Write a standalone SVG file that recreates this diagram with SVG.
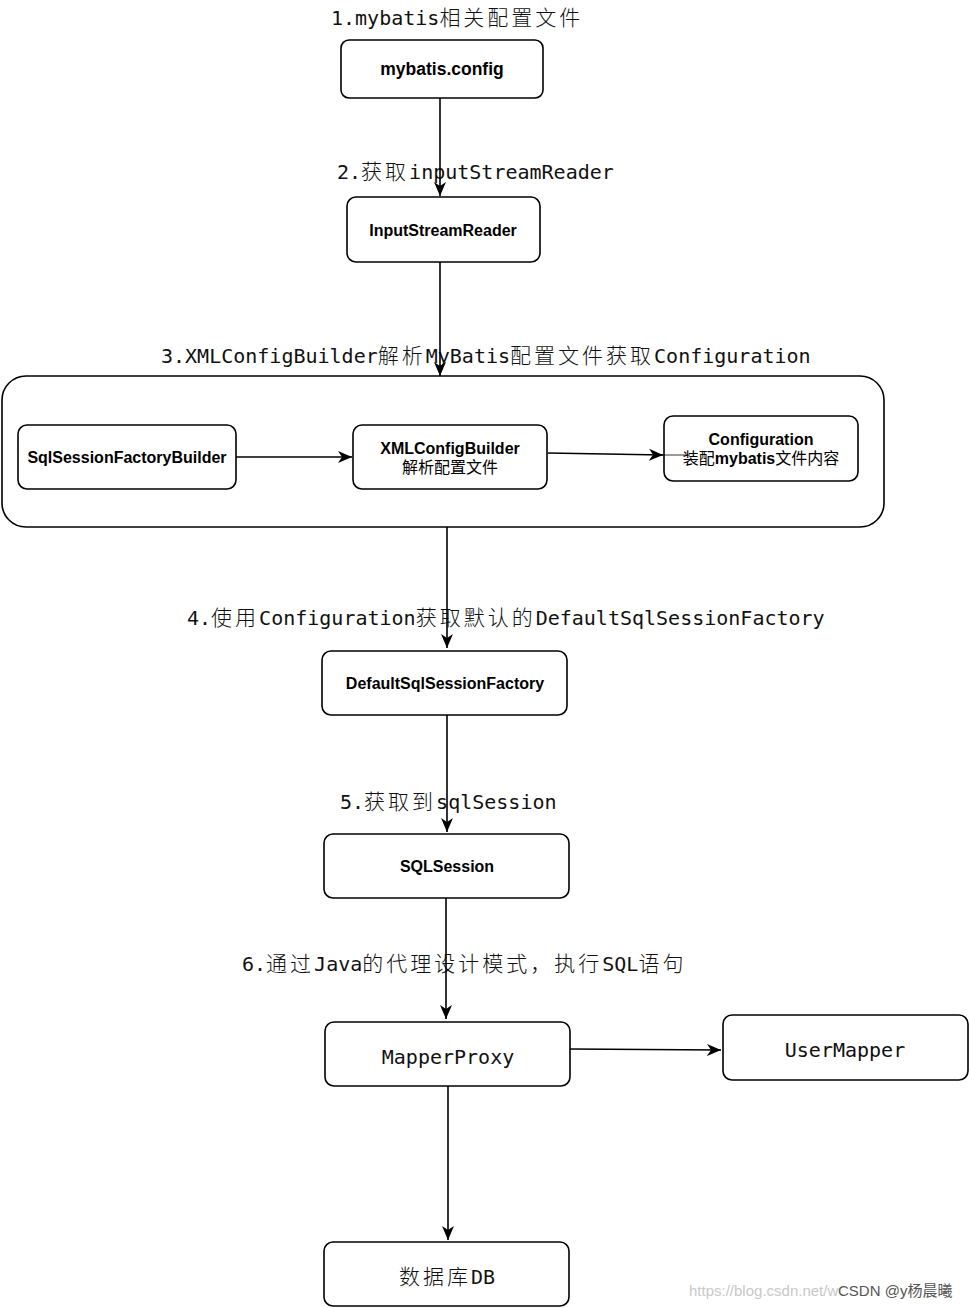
<svg xmlns="http://www.w3.org/2000/svg" width="969" height="1308" viewBox="0 0 969 1308">
<style>
.box{fill:#fff;stroke:#000;stroke-width:1.6}
.bt{font-family:"Liberation Sans",Arial,"Noto Sans CJK SC",sans-serif;font-weight:bold;font-size:16px;fill:#000;text-anchor:middle}
.ct{font-family:"Liberation Sans",Arial,"Noto Sans CJK SC",sans-serif;font-weight:normal}
.lbl{font-family:"DejaVu Sans Mono","Noto Sans CJK SC",monospace;font-size:20px;fill:#111}
.cjk{font-family:"Noto Sans CJK SC",sans-serif;font-size:21px;letter-spacing:3px;font-weight:300}
.mt{font-family:"DejaVu Sans Mono","Noto Sans CJK SC",monospace;font-size:20px;fill:#111;text-anchor:middle}
.edge{fill:none;stroke:#000;stroke-width:1.6}
</style>
<defs>
<marker id="ah" markerUnits="userSpaceOnUse" markerWidth="15" markerHeight="13" viewBox="0 0 15 13" refX="14" refY="6.5" orient="auto">
<path d="M0,0.5 L14,6.5 L0,12.5 L4,6.5 Z" fill="#000"/>
</marker>
</defs>
<rect width="969" height="1308" fill="#fff"/>

<g id="container">
<rect class="box" x="2" y="376" width="882" height="151" rx="24"/>
</g>

<g id="mybatis-config">
<rect class="box" x="341" y="40" width="202" height="58" rx="8"/>
<text class="bt" x="442" y="75" style="font-size:17.5px">mybatis.config</text>
</g>

<g id="input-stream-reader">
<rect class="box" x="347" y="197" width="193" height="65" rx="9"/>
<text class="bt" x="443" y="236">InputStreamReader</text>
</g>

<g id="sql-session-factory-builder">
<rect class="box" x="18" y="425" width="218" height="64" rx="9"/>
<text class="bt" x="127" y="463">SqlSessionFactoryBuilder</text>
</g>

<g id="xml-config-builder">
<rect class="box" x="353" y="425" width="194" height="64" rx="9"/>
<text class="bt" x="450" y="454">XMLConfigBuilder</text>
<text class="bt" x="450" y="473"><tspan class="ct">解析配置文件</tspan></text>
</g>

<g id="configuration">
<rect class="box" x="664" y="416" width="194" height="65" rx="9"/>
<text class="bt" x="761" y="445">Configuration</text>
<text class="bt" x="761" y="464"><tspan class="ct">装配</tspan>mybatis<tspan class="ct">文件内容</tspan></text>
</g>

<g id="default-sql-session-factory">
<rect class="box" x="322" y="651" width="245" height="64" rx="9"/>
<text class="bt" x="445" y="689">DefaultSqlSessionFactory</text>
</g>

<g id="sql-session">
<rect class="box" x="324" y="834" width="245" height="64" rx="9"/>
<text class="bt" x="447" y="872">SQLSession</text>
</g>

<g id="mapper-proxy">
<rect class="box" x="325" y="1022" width="245" height="64" rx="9"/>
<text class="mt" x="448" y="1064">MapperProxy</text>
</g>

<g id="user-mapper">
<rect class="box" x="723" y="1015" width="245" height="65" rx="9"/>
<text class="mt" x="845" y="1057">UserMapper</text>
</g>

<g id="database">
<rect class="box" x="324" y="1242" width="245" height="64" rx="9"/>
<text class="mt" x="447" y="1284"><tspan class="cjk">数据库</tspan>DB</text>
</g>

<g id="labels">
<text class="lbl" x="331" y="25">1.mybatis<tspan class="cjk">相关配置文件</tspan></text>
<text class="lbl" x="337" y="179">2.<tspan class="cjk">获取</tspan>inputStreamReader</text>
<text class="lbl" x="161" y="363">3.XMLConfigBuilder<tspan class="cjk">解析</tspan>MyBatis<tspan class="cjk">配置文件获取</tspan>Configuration</text>
<text class="lbl" x="187" y="625">4.<tspan class="cjk">使用</tspan>Configuration<tspan class="cjk">获取默认的</tspan>DefaultSqlSessionFactory</text>
<text class="lbl" x="340" y="809">5.<tspan class="cjk">获取到</tspan>sqlSession</text>
<text class="lbl" x="242" y="971">6.<tspan class="cjk">通过</tspan>Java<tspan class="cjk">的代理设计模式，执行</tspan>SQL<tspan class="cjk">语句</tspan></text>
</g>

<g id="connectors">
<path class="edge" d="M440,98 L440,196" marker-end="url(#ah)"/>
<path class="edge" d="M440,262 L440,376" marker-end="url(#ah)"/>
<path class="edge" d="M236,457 L352,457" marker-end="url(#ah)"/>
<path class="edge" d="M548,453 L663,455" marker-end="url(#ah)"/>
<path d="M655,455 L690,455" stroke="#000" stroke-width="0.8"/>
<path class="edge" d="M447,527 L447,648" marker-end="url(#ah)"/>
<path class="edge" d="M447,715 L447,832" marker-end="url(#ah)"/>
<path class="edge" d="M446,898 L446,1019" marker-end="url(#ah)"/>
<path class="edge" d="M570,1049 L721,1050" marker-end="url(#ah)"/>
<path class="edge" d="M448,1086 L448,1240" marker-end="url(#ah)"/>
</g>

<g id="watermark">
<text x="689" y="1296" font-family="Liberation Sans,Arial,sans-serif" font-size="15" fill="#c8c8c8">https://blog.csdn.net/w</text>
<text x="838" y="1296" font-family="Liberation Sans,Arial,'Noto Sans CJK SC',sans-serif" font-size="15" fill="#555">CSDN @y杨晨曦</text>
</g>
</svg>
